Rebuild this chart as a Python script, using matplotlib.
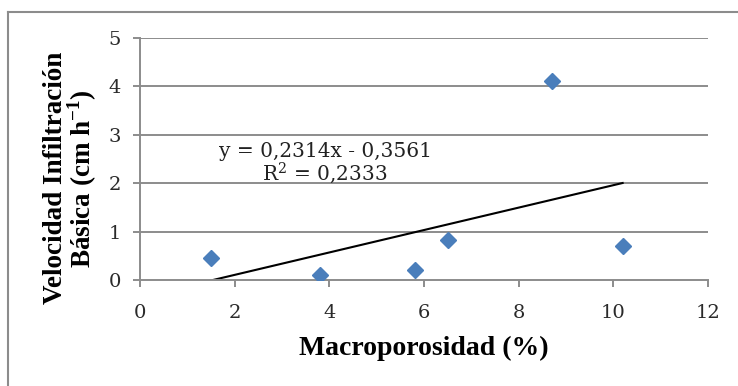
import numpy as np
import matplotlib
matplotlib.use('Agg')
import matplotlib.pyplot as plt
from matplotlib.lines import Line2D

# data
macroporosidad = [1.5, 3.8, 5.8, 6.5, 8.7, 10.2]
velocidad = [0.45, 0.10, 0.20, 0.83, 4.12, 0.70]
slope = 0.2314
intercept = -0.3561
r2_text = '0,2333'
eq_text = 'y = 0,2314x - 0,3561'
x_ticks = [0, 2, 4, 6, 8, 10, 12]
y_ticks = [0, 1, 2, 3, 4, 5]

plt.rcParams['font.family'] = ['Liberation Serif', 'DejaVu Serif']
plt.rcParams['mathtext.fontset'] = 'custom'
plt.rcParams['mathtext.rm'] = 'DejaVu Serif'
plt.rcParams['mathtext.bf'] = 'Liberation Serif:bold'

fig = plt.figure(figsize=(7.38, 3.86), dpi=100)
ax = fig.add_axes([0.19, 0.2746, 0.769, 0.627])

grey = '#8c8c8c'
for y in y_ticks[1:]:
    ax.axhline(y, color=grey, lw=1.4, zorder=1)

# trend line over the data range
xs = np.array([min(macroporosidad), max(macroporosidad)])
ax.plot(xs, slope * xs + intercept, color='black', lw=1.5, zorder=2)

ax.plot(macroporosidad, velocidad, linestyle='none', marker='D', ms=8.5,
        color='#4a7ebb', zorder=3)

ax.set_xlim(0, 12)
ax.set_ylim(0, 5)
ax.set_xticks(x_ticks)
ax.set_yticks(y_ticks)
ax.tick_params(axis='both', colors=grey, length=5, width=1.4, labelsize=14,
               labelcolor='#2a2a2a')
ax.tick_params(axis='x', pad=12)
ax.tick_params(axis='y', pad=9)
for lab in ax.get_xticklabels() + ax.get_yticklabels():
    lab.set_fontfamily('DejaVu Serif')
for s in ['top', 'right']:
    ax.spines[s].set_visible(False)
for s in ['left', 'bottom']:
    ax.spines[s].set_color(grey)
    ax.spines[s].set_linewidth(1.4)

ax.set_xlabel('Macroporosidad (%)', fontsize=20, fontweight='bold', labelpad=10)
ax.set_ylabel('Velocidad Infiltración\nBásica (cm h$^{\\mathbf{-1}}$)',
              fontsize=19.5, fontweight='bold', linespacing=0.9)
ax.yaxis.set_label_coords(-0.072, 0.42)

ax.text(3.91, 2.40, eq_text + '\nR$^2$ = ' + r2_text, fontsize=14.5,
        ha='center', va='center', multialignment='center', linespacing=0.95,
        color='#222222', family='DejaVu Serif')

# outer chart frame (partly cropped in the original)
fig.add_artist(Line2D([8 / 738, 8 / 738], [0, 1 - 12 / 386], color=grey, lw=1.5,
                      transform=fig.transFigure))
fig.add_artist(Line2D([8 / 738, 1], [1 - 12 / 386, 1 - 12 / 386], color=grey, lw=1.5,
                      transform=fig.transFigure))

fig.savefig('out.png', dpi=100)
